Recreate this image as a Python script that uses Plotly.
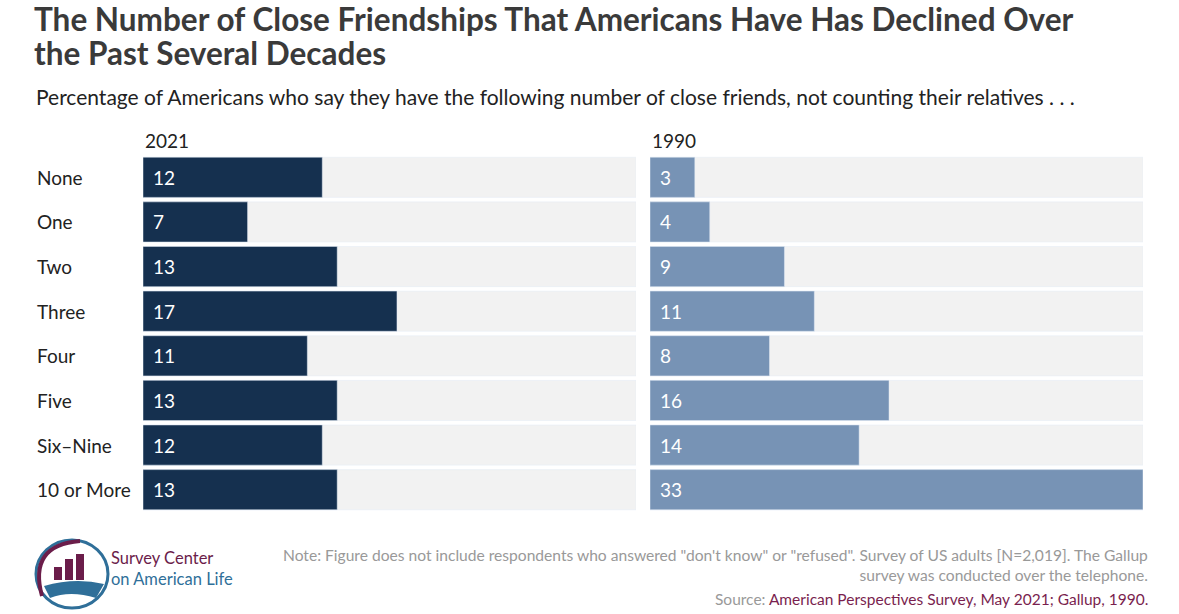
import plotly.graph_objects as go

categories = ["None", "One", "Two", "Three", "Four", "Five", "Six–Nine", "10 or More"]
v2021 = [12, 7, 13, 17, 11, 13, 12, 13]
v1990 = [3, 4, 9, 11, 8, 16, 14, 33]
maxv = 33

W, H = 1179, 614
px = lambda x: x / W
py = lambda y: 1 - y / H

fig = go.Figure()
ydom = [py(512), py(155)]
FONT = "Lato"

ann = []
for vals, col, xa, ya in [(v2021, "#15304f", "x", "y"), (v1990, "#7793b5", "x2", "y2")]:
    fig.add_bar(y=categories, x=[maxv] * len(categories), orientation="h", marker_color="#f2f2f2",
                width=0.9, xaxis=xa, yaxis=ya, hoverinfo="skip", showlegend=False)
    fig.add_bar(y=categories, x=vals, orientation="h", marker_color=col, width=0.9,
                xaxis=xa, yaxis=ya, showlegend=False)
    for c, v in zip(categories, vals):
        ann.append(dict(x=0, y=c, xref=xa, yref=ya, text=str(v), showarrow=False, xanchor="left",
                        yanchor="middle", xshift=8, font=dict(color="white", size=19, family=FONT)))

fig.update_layout(
    width=W, height=H, margin=dict(l=0, r=0, t=0, b=0), barmode="overlay",
    plot_bgcolor="white", paper_bgcolor="white", font=dict(family=FONT),
    xaxis=dict(domain=[px(143), px(636)], range=[0, maxv], visible=False),
    xaxis2=dict(domain=[px(650), px(1143)], range=[0, maxv], visible=False),
    yaxis=dict(domain=ydom, anchor="x", autorange="reversed", visible=False, categoryorder="array", categoryarray=categories),
    yaxis2=dict(domain=ydom, anchor="x2", autorange="reversed", visible=False, categoryorder="array", categoryarray=categories),
)

def A(x, y, text, size, color="#222", xanchor="left", align="left", yref="paper"):
    return dict(x=px(x), y=(py(y) if yref == "paper" else y), xref="paper", yref=yref, text=text,
                showarrow=False, xanchor=xanchor, yanchor="middle", align=align,
                font=dict(size=size, color=color, family=FONT))

ann += [A(35, c, c, 19, yref="y") for c in categories]
ann += [
    A(143, 140, "2021", 19),
    A(650, 140, "1990", 19),
    A(32, 19, "<b>The Number of Close Friendships That Americans Have Has Declined Over</b>", 31.5, "#3a3a3a"),
    A(32, 53, "<b>the Past Several Decades</b>", 31.5, "#3a3a3a"),
    A(34, 97, "Percentage of Americans who say they have the following number of close friends, not counting their relatives . . .", 21),
    A(1150, 565, 'Note: Figure does not include respondents who answered "don\'t know" or "refused". Survey of US adults [N=2,019]. The Gallup<br>survey was conducted over the telephone.',
      15.6, "#999", xanchor="right", align="right"),
    A(1150, 599, '<span style="color:#999">Source: </span><span style="color:#7a1f4f">American Perspectives Survey, May 2021; Gallup, 1990.</span>',
      15.5, xanchor="right", align="right"),
    A(109, 568, '<span style="color:#6b1d4a">Survey Center</span><br><span style="color:#2f6f99">on American Life</span>', 16.5),
]
fig.update_layout(annotations=ann)

shapes = [
    dict(type="circle", xref="paper", yref="paper", x0=px(36), x1=px(108), y0=py(608), y1=py(540),
         line=dict(color="#2f6f99", width=3)),
    dict(type="path", xref="paper", yref="paper",
         path=f"M {px(42)},{py(596)} Q {px(28)},{py(545)} {px(80)},{py(541)}", line=dict(color="#6b1d4a", width=4)),
    dict(type="rect", xref="paper", yref="paper", x0=px(54), x1=px(62), y0=py(580), y1=py(567), fillcolor="#6b1d4a", line_width=0),
    dict(type="rect", xref="paper", yref="paper", x0=px(65), x1=px(73), y0=py(580), y1=py(559), fillcolor="#6b1d4a", line_width=0),
    dict(type="rect", xref="paper", yref="paper", x0=px(76), x1=px(84), y0=py(580), y1=py(554), fillcolor="#6b1d4a", line_width=0),
    dict(type="path", xref="paper", yref="paper", fillcolor="#2f6f99", line_width=0,
         path=f"M {px(44)},{py(586)} Q {px(75)},{py(577)} {px(104)},{py(584)} L {px(96)},{py(598)} Q {px(70)},{py(590)} {px(50)},{py(598)} Z"),
]
fig.update_layout(shapes=shapes)
fig.write_html("out.html", config={"displayModeBar": False},
               post_script="document.body.style.margin='0';document.body.style.overflow='hidden';")
